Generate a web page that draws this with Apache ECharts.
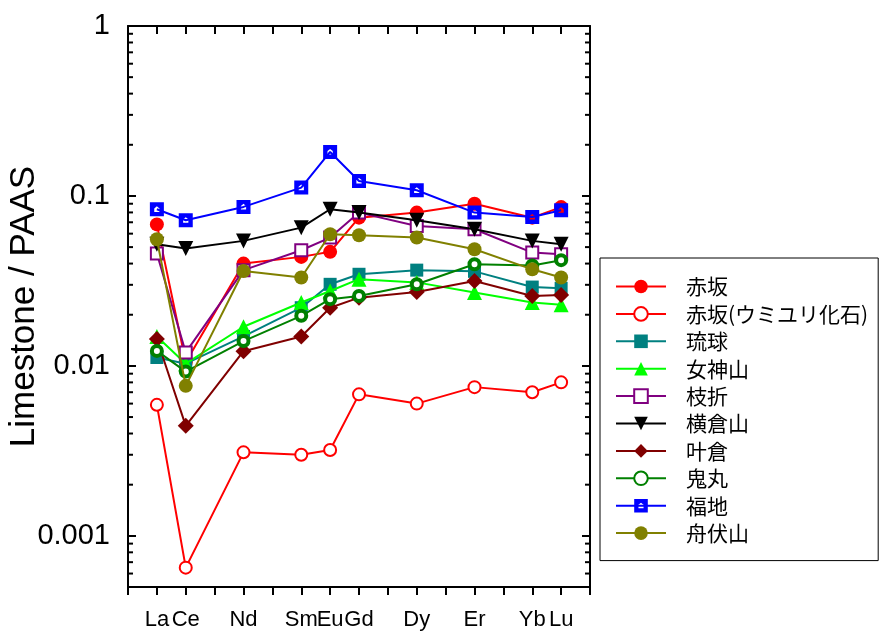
<!DOCTYPE html>
<html>
<head>
<meta charset="utf-8">
<script src="https://cdn.jsdelivr.net/npm/echarts@6/dist/echarts.min.js"></script>
<style>html,body{margin:0;padding:0;background:#fff;}#c{width:880px;height:632px;}</style>
</head>
<body>
<div id="c"></div>
<script>
// Elements (x tick labels) and their atomic numbers
const elements = ['La','Ce','Nd','Sm','Eu','Gd','Dy','Er','Yb','Lu'];
const atomicNumbers = [57,58,60,62,63,64,66,68,70,71];
const yTickValues = [0.001, 0.01, 0.1, 1];
const yTickLabels = ['0.001', '0.01', '0.1', '1'];

const seriesNames = ['赤坂','赤坂(ウミユリ化石)','琉球','女神山','枝折','横倉山','叶倉','鬼丸','福地','舟伏山'];

const akasaka      = [0.068, 0.0105, 0.040, 0.0438, 0.0469, 0.0745, 0.0798, 0.090, 0.0745, 0.086];
const akasakaCrin  = [0.0059, 0.00065, 0.0031, 0.0030, 0.0032, 0.0068, 0.0060, 0.0075, 0.0070, 0.0080];
const ryukyu       = [0.0112, 0.0103, 0.0149, 0.0220, 0.0302, 0.0346, 0.0366, 0.036, 0.0291, 0.0286];
const megamiyama   = [0.0149, 0.0103, 0.0170, 0.0236, 0.0276, 0.0324, 0.031, 0.0270, 0.0236, 0.0229];
const shiori       = [0.0458, 0.0120, 0.0366, 0.0479, 0.0569, 0.0798, 0.0666, 0.0637, 0.0464, 0.0454];
const yokokura     = [0.052, 0.049, 0.0544, 0.0651, 0.0835, 0.0798, 0.0720, 0.0637, 0.0544, 0.052];
const kanokura     = [0.0144, 0.00444, 0.0122, 0.0149, 0.0220, 0.0252, 0.0272, 0.0316, 0.0258, 0.0261];
const onimaru      = [0.01225, 0.00926, 0.0140, 0.0197, 0.0247, 0.0258, 0.0302, 0.0396, 0.039, 0.0419];
const fukuchi      = [0.0835, 0.072, 0.0862, 0.112, 0.1815, 0.1225, 0.108, 0.0798, 0.0752, 0.0824];
const funabuse     = [0.0556, 0.00763, 0.0362, 0.0331, 0.0595, 0.0587, 0.0569, 0.0486, 0.037, 0.0331];

const seriesValues = [akasaka, akasakaCrin, ryukyu, megamiyama, shiori, yokokura, kanokura, onimaru, fukuchi, funabuse];

const styles = [
  {color:'#ff0000', symbol:'circle', size:14, fill:'#ff0000'},
  {color:'#ff0000', symbol:'circle', size:12, fill:'#ffffff', bw:2},
  {color:'#008080', symbol:'rect', size:13, fill:'#008080'},
  {color:'#00ff00', symbol:'triangle', size:15, fill:'#00ff00'},
  {color:'#800080', symbol:'rect', size:12, fill:'#ffffff', bw:2},
  {color:'#000000', symbol:'triangle', size:15, fill:'#000000', rotate:180},
  {color:'#800000', symbol:'diamond', size:16, fill:'#800000'},
  {color:'#008000', symbol:'circle', size:10, fill:'#ffffff', bw:4},
  {color:'#0000ff', symbol:'path://M0,0H16V16H0Z M8,4.5L5,7L5,11L11,11L11,7Z', size:14, fill:'#0000ff'},
  {color:'#808000', symbol:'circle', size:14, fill:'#808000'}
];

const latin = '"Liberation Sans", Arial, sans-serif';
const cjk = '"Noto Sans CJK JP", sans-serif';

const series = seriesNames.map((name, i) => {
  const s = styles[i];
  return {
    name: name,
    type: 'line',
    data: atomicNumbers.map((z, j) => [z, seriesValues[i][j]]),
    symbol: s.symbol,
    symbolSize: s.size,
    symbolRotate: s.rotate || 0,
    showAllSymbol: true,
    lineStyle: {color: s.color, width: 2},
    itemStyle: {color: s.fill, borderColor: s.color, borderWidth: s.bw || 0},
    emphasis: {disabled: true},
    z: 2 + i * 0.01
  };
});

const chart = echarts.init(document.getElementById('c'), null, {renderer: 'canvas'});
const axisLineStyle = {color: '#000', width: 2};

chart.setOption({
  animation: false,
  backgroundColor: '#fff',
  grid: {left: 128, right: 290, top: 26, bottom: 45, containLabel: false, outerBoundsMode: 'none'},
  xAxis: [
    {
      type: 'value', min: 56, max: 72, interval: 1, position: 'bottom',
      axisLine: {show: true, lineStyle: axisLineStyle},
      axisTick: {show: true, inside: false, length: 8, lineStyle: axisLineStyle},
      axisLabel: {
        show: true, margin: 22, fontSize: 22, color: '#000', fontFamily: latin,
        showMinLabel: true, showMaxLabel: true,
        formatter: function (v) {
          const k = atomicNumbers.indexOf(Math.round(v));
          return k >= 0 ? elements[k] : '';
        }
      },
      splitLine: {show: false}
    },
    {
      type: 'value', min: 56, max: 72, interval: 1, position: 'top',
      axisLine: {show: true, lineStyle: axisLineStyle},
      axisTick: {show: true, inside: true, length: 8, lineStyle: axisLineStyle},
      axisLabel: {show: false},
      splitLine: {show: false}
    }
  ],
  yAxis: [
    {
      type: 'log', logBase: 10, min: 0.0005, max: 1, position: 'left',
      name: 'Limestone / PAAS', nameLocation: 'middle', nameGap: 86, nameMoveOverlap: false,
      nameTextStyle: {fontSize: 35, color: '#000', fontFamily: latin},
      axisLine: {show: true, lineStyle: axisLineStyle},
      axisTick: {show: true, inside: true, length: 8, lineStyle: axisLineStyle},
      axisLabel: {
        show: true, margin: 18, fontSize: 29, color: '#000', fontFamily: latin,
        formatter: function (v) {
          for (let k = 0; k < yTickValues.length; k++) {
            if (Math.abs(Math.log10(v) - Math.log10(yTickValues[k])) < 1e-6) return yTickLabels[k];
          }
          return '';
        }
      },
      splitLine: {show: false}
    },
    {
      type: 'log', logBase: 10, min: 0.0005, max: 1, position: 'right',
      axisLine: {show: true, lineStyle: axisLineStyle},
      axisTick: {show: true, inside: true, length: 8, lineStyle: axisLineStyle},
      axisLabel: {show: false},
      splitLine: {show: false}
    }
  ],
  legend: {
    orient: 'vertical', left: 600, top: 258,
    itemWidth: 50, itemHeight: 17, itemGap: 6.4,
    padding: [18, 10, 17, 15],
    borderColor: '#000', borderWidth: 1, backgroundColor: '#fff',
    textStyle: {fontSize: 21, color: '#000', fontFamily: cjk, padding: [0, 0, 0, 15]},
    data: seriesNames,
    selectedMode: false
  },
  series: series
});

// Minor ticks at 2..9 x 10^n (log-spaced), drawn through the axis scale
const minorLen = 5;
const xl = chart.convertToPixel({xAxisIndex: 0}, 56);
const xr = chart.convertToPixel({xAxisIndex: 0}, 72);
const g = [];
for (let n = -4; n <= -1; n++) {
  for (let k = 2; k <= 9; k++) {
    const v = k * Math.pow(10, n);
    if (v < 0.0005 - 1e-12 || v > 1) continue;
    const y = chart.convertToPixel({yAxisIndex: 0}, v);
    g.push({type: 'line', shape: {x1: xl, y1: y, x2: xl + minorLen, y2: y}, style: {stroke: '#000', lineWidth: 2}, z: 10, silent: true});
    g.push({type: 'line', shape: {x1: xr, y1: y, x2: xr - minorLen, y2: y}, style: {stroke: '#000', lineWidth: 2}, z: 10, silent: true});
  }
}
chart.setOption({graphic: g});
</script>
</body>
</html>
